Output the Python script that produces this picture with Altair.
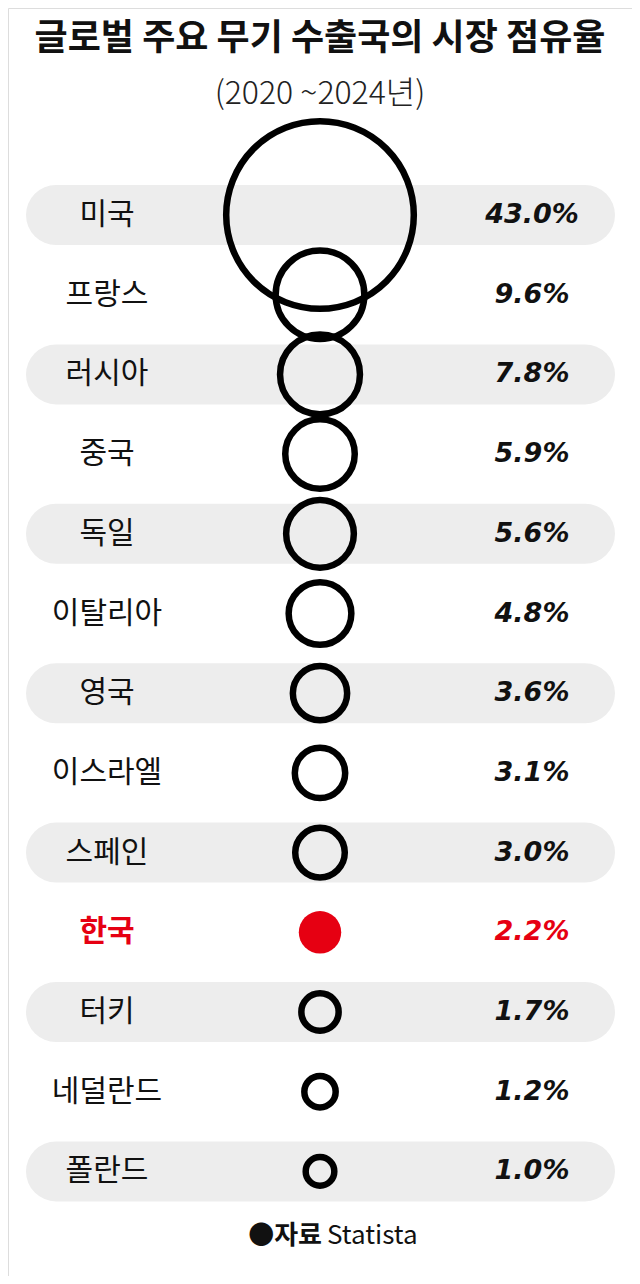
import altair as alt
import pandas as pd

# ---- data ----
countries = ["미국", "프랑스", "러시아", "중국", "독일", "이탈리아", "영국",
             "이스라엘", "스페인", "한국", "터키", "네덜란드", "폴란드"]
shares = [43.0, 9.6, 7.8, 5.9, 5.6, 4.8, 3.6, 3.1, 3.0, 2.2, 1.7, 1.2, 1.0]
highlight = "한국"
title_text = "글로벌 주요 무기 수출국의 시장 점유율"
subtitle_text = "(2020 ~2024년)"
source_mark = "●자료"
source_name = "Statista"

df = pd.DataFrame({
    "country": countries,
    "share": shares,
    "idx": list(range(len(countries))),
})
df["band"] = df["idx"] % 2 == 0
df["label"] = [f"{v:.1f}%" for v in shares]

RED = "#e60012"
GRAY = "#ededed"
KFONT = "Noto Sans CJK KR"

yscale = alt.Scale(domain=countries, range=[167.15, 1203.25],
                   paddingInner=0, paddingOuter=0)
Y = alt.Y("country:N", scale=yscale, axis=None, sort=countries)
size_scale = alt.Scale(domain=[0, 43], range=[0, 35200])

base = alt.Chart(df)

bands = base.transform_filter("datum.band").mark_rule(
    strokeWidth=60, strokeCap="round", color=GRAY
).encode(x=alt.value(48), x2=alt.value(577), y=Y)

rings = base.transform_filter(f"datum.country != '{highlight}'").mark_point(
    shape="circle", filled=False, stroke="black", strokeWidth=6.5, opacity=1
).encode(x=alt.value(312), y=Y,
         size=alt.Size("share:Q", scale=size_scale, legend=None))

dot = base.transform_filter(f"datum.country == '{highlight}'").mark_circle(
    color=RED, opacity=1
).encode(x=alt.value(312), y=Y,
         size=alt.Size("share:Q", scale=size_scale, legend=None))

names = base.transform_filter(f"datum.country != '{highlight}'").mark_text(
    font=KFONT, fontSize=30, fontWeight="normal", align="center",
    baseline="middle", color="#111"
).encode(x=alt.value(99), y=Y, text="country:N")

names_hi = base.transform_filter(f"datum.country == '{highlight}'").mark_text(
    font=KFONT, fontSize=30, fontWeight="bold", align="center",
    baseline="middle", color=RED
).encode(x=alt.value(99), y=Y, text="country:N")

vals = base.mark_text(
    font="DejaVu Sans", fontSize=27, fontWeight="bold", fontStyle="italic",
    align="center", baseline="middle"
).encode(
    x=alt.value(524), y=Y, text="label:N",
    color=alt.condition(f"datum.country == '{highlight}'",
                        alt.value(RED), alt.value("#111"))
)

def text_layer(txt, x, y, **kw):
    return alt.Chart(pd.DataFrame({"t": [txt]})).mark_text(**kw).encode(
        x=alt.value(x), y=alt.value(y), text="t:N")

title = text_layer(title_text, 312, 31, font=KFONT, fontSize=36,
                   fontWeight="bold", align="center", baseline="middle",
                   color="#111")
subtitle = text_layer(subtitle_text, 312, 86, font=KFONT, fontSize=32,
                      fontWeight=300, align="center", baseline="middle",
                      color="#222")
src1 = text_layer(source_mark, 314, 1228, font=KFONT, fontSize=26,
                  fontWeight="bold", align="right", baseline="middle",
                  color="#111")
src2 = text_layer(source_name, 319, 1228, font=KFONT, fontSize=26,
                  align="left", baseline="middle", color="#111")

chart = alt.layer(
    bands, rings, dot, names, names_hi, vals, title, subtitle, src1, src2
).properties(
    width=624, height=1268, padding=0,
    autosize=alt.AutoSizeParams(type="none")
).configure_view(stroke=None).configure(background="white")

chart.save("out.html", embed_options={"renderer": "svg", "actions": False})
